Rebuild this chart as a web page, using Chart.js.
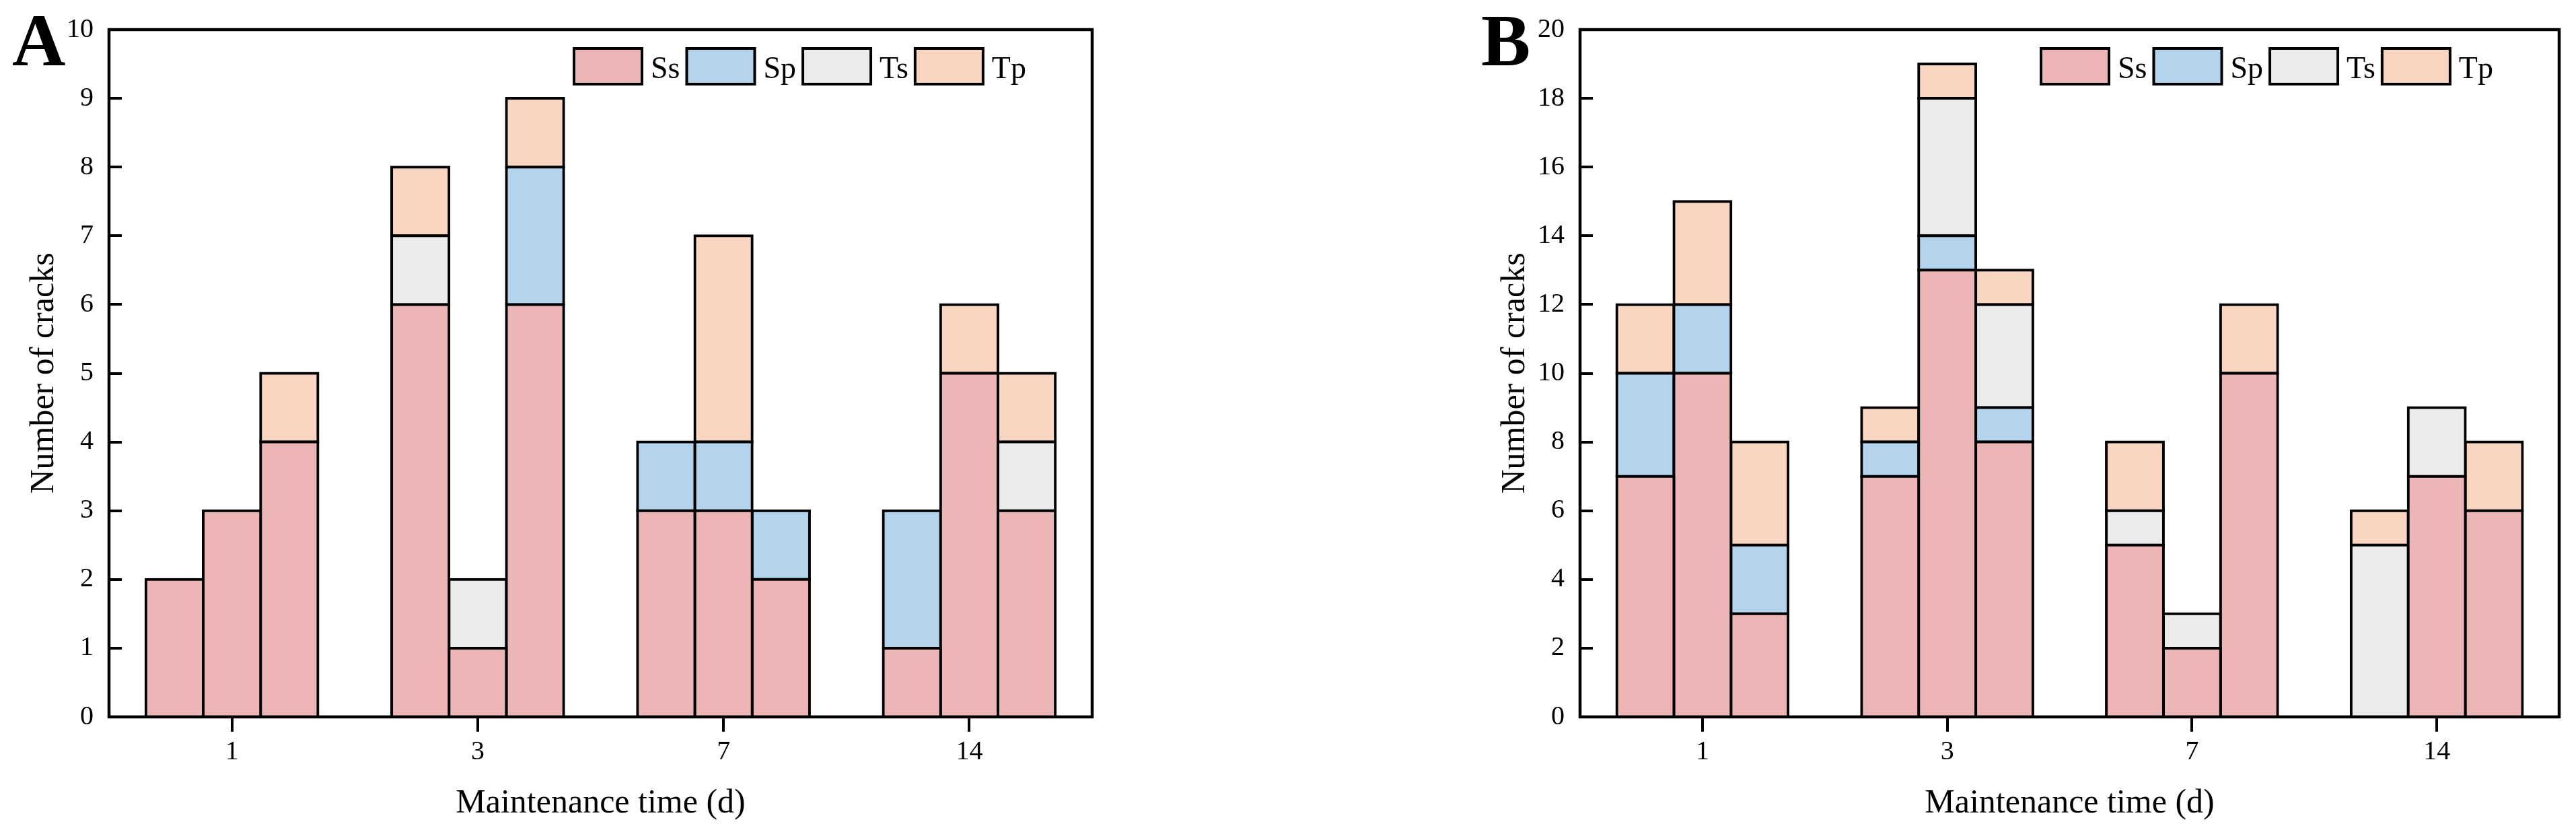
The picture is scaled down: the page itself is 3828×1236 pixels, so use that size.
<!DOCTYPE html>
<html><head><meta charset="utf-8">
<script src="https://cdn.jsdelivr.net/npm/chart.js@4.4.1/dist/chart.umd.min.js"></script>
<style>
html,body{margin:0;padding:0;background:#fff;width:3828px;height:1236px;overflow:hidden}
canvas{position:absolute;top:0}
</style></head>
<body>
<canvas id="cA" width="1914" height="1236" style="left:0px"></canvas>
<canvas id="cB" width="1914" height="1236" style="left:1914px"></canvas>
<script>
// ---- data ----
const categories = ['1', '3', '7', '14'];
const seriesNames = ['Ss', 'Sp', 'Ts', 'Tp'];
const seriesColors = ['#ECB6B6', '#B3D4EC', '#EBEBEB', '#F8D6C1'];
// each array: 3 bars per maintenance time (1,3,7,14) -> 12 values
const A_Ss = [2, 3, 4, 6, 1, 6, 3, 3, 2, 1, 5, 3];
const A_Sp = [0, 0, 0, 0, 0, 2, 1, 1, 1, 2, 0, 0];
const A_Ts = [0, 0, 0, 1, 1, 0, 0, 0, 0, 0, 0, 1];
const A_Tp = [0, 0, 1, 1, 0, 1, 0, 3, 0, 0, 1, 1];
const B_Ss = [7, 10, 3, 7, 13, 8, 5, 2, 10, 0, 7, 6];
const B_Sp = [3, 2, 2, 1, 1, 1, 0, 0, 0, 0, 0, 0];
const B_Ts = [0, 0, 0, 0, 4, 3, 1, 1, 0, 5, 2, 0];
const B_Tp = [2, 3, 3, 1, 1, 1, 2, 0, 2, 1, 0, 2];
const A_yMax = 10, A_yStep = 1;
const B_yMax = 20, B_yStep = 2;
const xTitle = 'Maintenance time (d)';
const yTitle = 'Number of cracks';
const barsPerGroup = 3;

const FONT = '"Liberation Serif", "Times New Roman", serif';

function buildDatasets(seriesArrays) {
  const ds = [];
  seriesArrays.forEach((arr, s) => {
    for (let k = 0; k < barsPerGroup; k++) {
      ds.push({
        label: seriesNames[s],
        data: categories.map((_, g) => {
          const v = arr[g * barsPerGroup + k];
          return v === 0 ? null : v;
        }),
        stack: 'bar' + k,
        backgroundColor: seriesColors[s],
        borderColor: '#000',
        borderWidth: 4,
        inflateAmount: 2,
        borderSkipped: false,
        barPercentage: 1.0,
        categoryPercentage: 0.7
      });
    }
  });
  return ds;
}

function decoPlugin(letter, letterX) {
  return {
    id: 'deco' + letter,
    afterDatasetsDraw(chart) {
      const ctx = chart.ctx, a = chart.chartArea, ys = chart.scales.y;
      ctx.save();
      ctx.strokeStyle = '#000';
      // inward y tick marks
      ctx.lineWidth = 4;
      ctx.beginPath();
      ys.ticks.forEach(t => {
        const py = Math.round(ys.getPixelForValue(t.value));
        ctx.moveTo(a.left, py);
        ctx.lineTo(a.left + 19, py);
      });
      ctx.stroke();
      // frame
      ctx.lineWidth = 4.5;
      ctx.strokeRect(a.left, a.top, a.right - a.left, a.bottom - a.top);
      // legend inside plot, top right
      ctx.font = '46px ' + FONT;
      ctx.textBaseline = 'alphabetic';
      ctx.textAlign = 'left';
      let x = a.right - 770;
      const top = a.top + 28;
      const bw = 101, bh = 53;
      seriesNames.forEach((n, i) => {
        ctx.fillStyle = seriesColors[i];
        ctx.fillRect(x, top, bw, bh);
        ctx.lineWidth = 4;
        ctx.strokeRect(x, top, bw, bh);
        ctx.fillStyle = '#000';
        ctx.fillText(n, x + bw + 13, top + 44);
        x += bw + 13 + ctx.measureText(n).width + 10;
      });
      ctx.font = 'bold 110px ' + FONT;
      ctx.fillStyle = '#000';
      ctx.fillText(letter, letterX, 97);
      ctx.restore();
    }
  };
}

function makeChart(id, seriesArrays, yMax, yStep, padLeft, padRight, letter, letterX) {
  return new Chart(document.getElementById(id), {
    type: 'bar',
    data: { labels: categories, datasets: buildDatasets(seriesArrays) },
    options: {
      responsive: false,
      animation: false,
      devicePixelRatio: 1,
      layout: { padding: { left: padLeft, right: padRight, top: 44, bottom: 0 } },
      plugins: { legend: { display: false }, tooltip: { enabled: false } },
      scales: {
        x: {
          stacked: true,
          offset: true,
          grid: { display: true, offset: false, drawOnChartArea: false, drawTicks: true,
                  tickLength: 22, lineWidth: 4, color: '#000' },
          border: { display: false },
          ticks: { color: '#000', font: { family: FONT, size: 40 }, padding: 6, maxRotation: 0 },
          title: { display: true, text: xTitle, color: '#000',
                   font: { family: FONT, size: 50 }, padding: { top: 0, bottom: 12 } },
          afterFit(s) { s.height = 171; }
        },
        y: {
          stacked: true,
          min: 0, max: yMax,
          grid: { display: false, drawOnChartArea: false, drawTicks: false },
          border: { display: false },
          ticks: { stepSize: yStep, color: '#000', font: { family: FONT, size: 40, lineHeight: 1.0 }, padding: 23 },
          title: { display: true, text: yTitle, color: '#000',
                   font: { family: FONT, size: 50 }, padding: { top: 36, bottom: 0 } },
          afterFit(s) { s.width = 162; }
        }
      }
    },
    plugins: [decoPlugin(letter, letterX)]
  });
}

makeChart('cA', [A_Ss, A_Sp, A_Ts, A_Tp], A_yMax, A_yStep, 0, 291, 'A', 18);
makeChart('cB', [B_Ss, B_Sp, B_Ts, B_Tp], B_yMax, B_yStep, 272, 25, 'B', 287);
</script>
</body></html>
